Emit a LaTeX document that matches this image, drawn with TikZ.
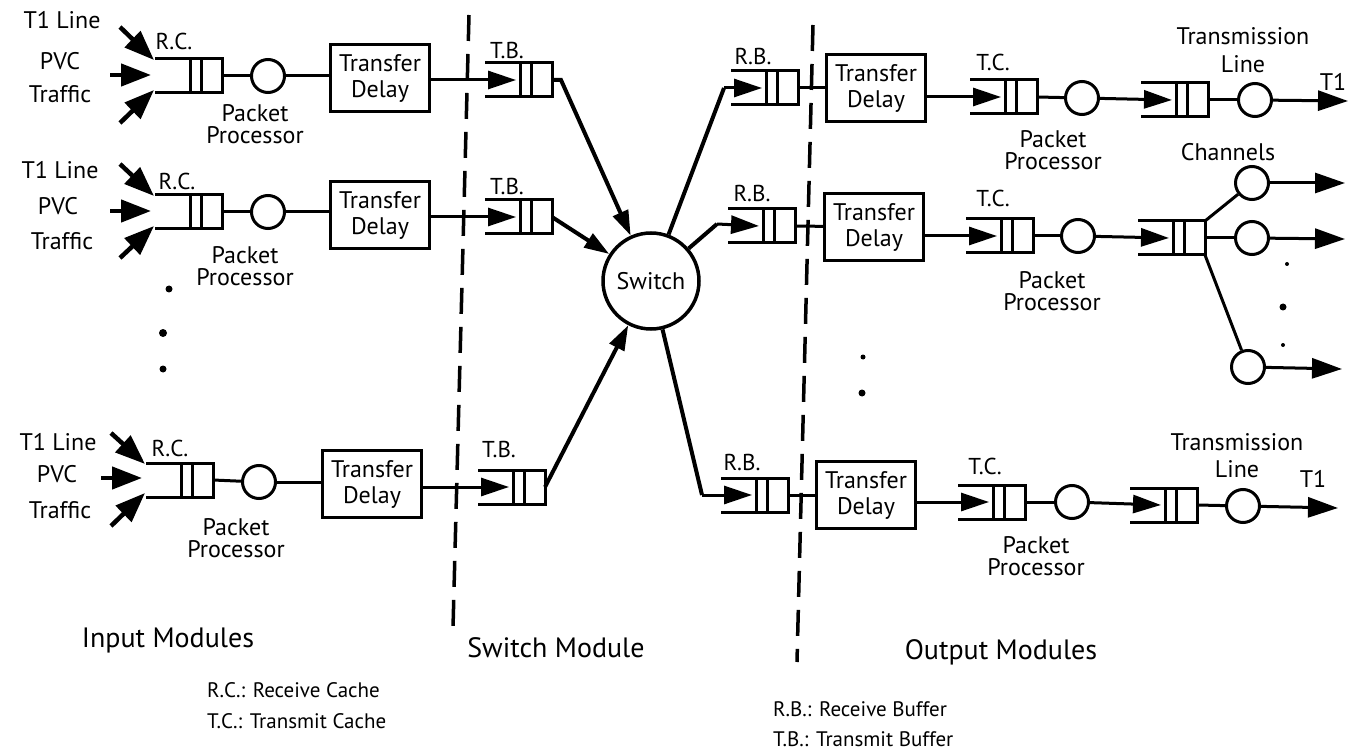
\documentclass[tikz,border=0pt]{standalone}
\usepackage{fontspec}
\setmainfont{PT Sans}
\usetikzlibrary{arrows.meta}
\begin{document}
\begin{tikzpicture}[x=1pt,y=-1pt,
  lbl/.style={font=\fontsize{24}{22}\selectfont, inner sep=0pt, align=center},
  small/.style={font=\fontsize{23}{24}\selectfont, inner sep=0pt},
  title/.style={font=\fontsize{28}{30}\selectfont, inner sep=0pt},
  legend/.style={font=\fontsize{21}{23}\selectfont, inner sep=0pt, anchor=west},
  conn/.style={line width=3pt},
  qarrow/.style={conn, -{Triangle[length=28pt,width=18pt]}},
  swline/.style={line width=4pt},
  swarrow/.style={swline, -{Triangle[length=25pt,width=16pt]}},
  outarrow/.style={conn, -{Triangle[length=30pt,width=20pt]}},
  traffic/.style={line width=4.5pt, -{Triangle[length=30pt,width=22pt]}},
  pp/.style={circle, draw, line width=3pt, minimum size=33pt, inner sep=0pt},
  delaybox/.style={draw, line width=3pt, minimum width=99pt, minimum height=67pt, inner sep=0pt, align=center, font=\fontsize{24}{26}\selectfont},
  divider/.style={line width=3.5pt, dash pattern=on 26pt off 13pt},
  dot/.style={circle, fill, inner sep=0pt, minimum size=#1},
  queue/.pic={
    \draw[line width=3pt] (-67,-17) -- (0,-17) -- (0,17) -- (-67,17);
    \draw[line width=3pt] (-32,-17) -- (-32,17) (-21,-17) -- (-21,17);
    \coordinate (-in) at (-36,0);
    \coordinate (-out) at (0,0);
    \coordinate (-ne) at (0,-17);
    \coordinate (-se) at (0,17);
  }
]
\useasboundingbox (0,0) rectangle (1361,754);

% ---------- dividers ----------
\coordinate (dv1t) at (469,15);
\coordinate (dv1b) at (453,628);
\coordinate (dv2t) at (813,25);
\coordinate (dv2b) at (797,662);
\draw[divider] (dv1t) -- (dv1b);
\draw[divider] (dv2t) -- (dv2b);

% ---------- input modules ----------
% row 1
\node[lbl] (t1a) at (62,20) {T1 Line};
\node[lbl] (pvca) at (60,61) {PVC};
\node[lbl] (trafa) at (60,94) {Traffic};
\pic (rc1) at (222,76) {queue};
\node[small] (rcl1) at (174,41) {R.C.};
\node[pp] (ipp1) at (268,76) {};
\node[lbl] (ippl1) at (255,124) {Packet\\Processor};
\node[delaybox] (ib1) at (380,78) {Transfer\\Delay};
\coordinate (ta1) at (120,27);
\coordinate (tb1x) at (110,75);
\coordinate (tc1x) at (120,123);
\coordinate (ha1) at (154,60);
\coordinate (hb1) at (151,75);
\coordinate (hc1) at (154,90);
\draw[traffic] (ta1) -- (ha1);
\draw[traffic] (tb1x) -- (hb1);
\draw[traffic] (tc1x) -- (hc1);
\draw[conn] (rc1-out) -- (ipp1);
\draw[conn] (ipp1) -- (ib1.west |- ipp1);

% row 2
\node[lbl] (t1b) at (60,170) {T1 Line};
\node[lbl] (pvcb) at (58,206) {PVC};
\node[lbl] (trafb) at (62,241) {Traffic};
\pic (rc2) at (222,212) {queue};
\node[small] (rcl2) at (177,181) {R.C.};
\node[pp] (ipp2) at (268,212) {};
\node[lbl] (ippl2) at (245,266) {Packet\\Processor};
\node[delaybox] (ib2) at (380,215) {Transfer\\Delay};
\coordinate (ta2) at (120,164);
\coordinate (tb2x) at (110,211);
\coordinate (tc2x) at (120,258);
\coordinate (ha2) at (154,196);
\coordinate (hb2) at (151,211);
\coordinate (hc2) at (154,226);
\draw[traffic] (ta2) -- (ha2);
\draw[traffic] (tb2x) -- (hb2);
\draw[traffic] (tc2x) -- (hc2);
\draw[conn] (rc2-out) -- (ipp2);
\draw[conn] (ipp2) -- (ib2.west |- ipp2);

% dots
\node[dot=7pt] (idot1) at (169,289) {};
\node[dot=8pt] (idot2) at (163,333) {};
\node[dot=7pt] (idot3) at (163,369) {};

% row 3
\node[lbl] (t1c) at (58,442) {T1 Line};
\node[lbl] (pvcc) at (57,474) {PVC};
\node[lbl] (trafc) at (60,510) {Traffic};
\pic (rc3) at (213,480) {queue};
\node[small] (rcl3) at (170,448) {R.C.};
\node[pp] (ipp3) at (259,482) {};
\node[lbl] (ippl3) at (236,538) {Packet\\Processor};
\node[delaybox] (ib3) at (372,484) {Transfer\\Delay};
\coordinate (ta3) at (111,433);
\coordinate (tb3x) at (101,478);
\coordinate (tc3x) at (111,526);
\coordinate (ha3) at (145,464);
\coordinate (hb3) at (142,478);
\coordinate (hc3) at (145,493);
\draw[traffic] (ta3) -- (ha3);
\draw[traffic] (tb3x) -- (hb3);
\draw[traffic] (tc3x) -- (hc3);
\draw[conn] (rc3-out) -- (ipp3);
\draw[conn] (ipp3) -- (ib3.west |- ipp3);

% ---------- switch module ----------
\pic (tb1) at (552,80) {queue};
\node[small] (tbl1) at (507,50) {T.B.};
\pic (tb2) at (552,217) {queue};
\node[small] (tbl2) at (507,186) {T.B.};
\pic (tb3) at (545,487) {queue};
\node[small] (tbl3) at (499,449) {T.B.};
\draw[qarrow] (ib1.east |- tb1-in) -- (tb1-in);
\draw[qarrow] (ib2.east |- tb2-in) -- (tb2-in);
\draw[qarrow] (ib3.east |- tb3-in) -- (tb3-in);

\node[circle, draw, line width=3.5pt, minimum size=96pt, inner sep=0pt, font=\fontsize{24}{26}\selectfont] (sw) at (651,281) {Switch};

\draw[swarrow] (tb1-out) -- ++(9,0) -- (sw);
\draw[swarrow] (tb2-out) -- (sw);
\draw[swarrow] (tb3-out) -- (sw);

\pic (rb1) at (798,88) {queue};
\node[small] (rbl1) at (753,56) {R.B.};
\pic (rb2) at (795,226) {queue};
\node[small] (rbl2) at (752,193) {R.B.};
\pic (rb3) at (788,495) {queue};
\node[small] (rbl3) at (742,462) {R.B.};

\coordinate (k1) at (724,88);
\coordinate (k2) at (717,224);
\coordinate (k3) at (702,495);
\draw[swline] (sw) -- (k1);
\draw[swline] (sw) -- (k2);
\draw[swline] (sw) -- (k3);
\draw[qarrow] (k1) -- (rb1-in);
\draw[qarrow] (k2) -- (rb2-in);
\draw[qarrow] (k3) -- (rb3-in);

% ---------- output modules ----------
% row 1
\node[delaybox] (ob1) at (876,88) {Transfer\\Delay};
\draw[conn] (rb1-out) -- (ob1);
\pic (tc1) at (1037,97) {queue};
\node[small] (tcl1) at (993,62) {T.C.};
\draw[qarrow] (ob1.east |- tc1-in) -- (tc1-in);
\node[pp] (opp1) at (1082,98) {};
\draw[conn] (tc1-out) -- (opp1);
\node[lbl] (oppl1) at (1053,150) {Packet\\Processor};
\pic (tq1) at (1208,100) {queue};
\draw[qarrow] (opp1) -- (tq1-in);
\node[pp] (tl1) at (1255,100) {};
\draw[conn] (tq1-out) -- (tl1);
\coordinate (t1e1) at (1348,101);
\draw[outarrow] (tl1) -- (t1e1);
\node[lbl, font=\fontsize{24}{28}\selectfont] (tll1) at (1243,50) {Transmission\\Line};
\node[lbl] (t1o1) at (1333,82) {T1};

% row 2
\node[delaybox] (ob2) at (874,227) {Transfer\\Delay};
\draw[conn] (rb2-out) -- (ob2);
\pic (tc2) at (1033,236) {queue};
\node[small] (tcl2) at (993,198) {T.C.};
\draw[qarrow] (ob2.east |- tc2-in) -- (tc2-in);
\node[pp] (opp2) at (1078,236) {};
\draw[conn] (tc2-out) -- (opp2);
\node[lbl] (oppl2) at (1052,291) {Packet\\Processor};
\pic (cq) at (1205,238) {queue};
\draw[qarrow] (opp2) -- (cq-in);
\node[lbl] (chl) at (1228,152) {Channels};
\node[pp] (ch1) at (1252,183) {};
\node[pp] (ch2) at (1252,238) {};
\node[pp] (ch3) at (1248,367) {};
\draw[conn] (cq-ne) -- (ch1);
\draw[conn] (cq-out) -- (ch2);
\draw[conn] (cq-se) -- (ch3);
\coordinate (che1) at (1345,183);
\coordinate (che2) at (1345,239);
\coordinate (che3) at (1342,369);
\draw[outarrow] (ch1) -- (che1);
\draw[outarrow] (ch2) -- (che2);
\draw[outarrow] (ch3) -- (che3);
\node[dot=4pt] (cdot1) at (1287,264) {};
\node[dot=7pt] (cdot2) at (1283,307) {};
\node[dot=4pt] (cdot3) at (1283,345) {};

% dots
\node[dot=5pt] (odot1) at (863,357) {};
\node[dot=7pt] (odot2) at (862,393) {};

% row 3
\node[delaybox] (ob3) at (866,495) {Transfer\\Delay};
\draw[conn] (rb3-out) -- (ob3);
\pic (tc3) at (1025,502) {queue};
\node[small] (tcl3) at (985,466) {T.C.};
\draw[qarrow] (ob3.east |- tc3-in) -- (tc3-in);
\node[pp] (opp3) at (1072,502) {};
\draw[conn] (tc3-out) -- (opp3);
\node[lbl] (oppl3) at (1036,556) {Packet\\Processor};
\pic (tq3) at (1197,505) {queue};
\draw[qarrow] (opp3) -- (tq3-in);
\node[pp] (tl3) at (1243,506) {};
\draw[conn] (tq3-out) -- (tl3);
\coordinate (t1e3) at (1338,508);
\draw[outarrow] (tl3) -- (t1e3);
\node[lbl, font=\fontsize{24}{27}\selectfont] (tll3) at (1237,456) {Transmission\\Line};
\node[lbl] (t1o3) at (1313,479) {T1};

% ---------- titles & legend ----------
\node[title] (tin) at (168,640) {Input Modules};
\node[title] (tsw) at (556,648) {Switch Module};
\node[title] (tout) at (1001,652) {Output Modules};
\node[legend] (lrc) at (207,690) {R.C.: Receive Cache};
\node[legend] (ltc) at (207,721) {T.C.: Transmit Cache};
\node[legend] (lrb) at (773,709) {R.B.: Receive Buffer};
\node[legend] (ltb) at (773,739) {T.B.: Transmit Buffer};
\end{tikzpicture}
\end{document}
